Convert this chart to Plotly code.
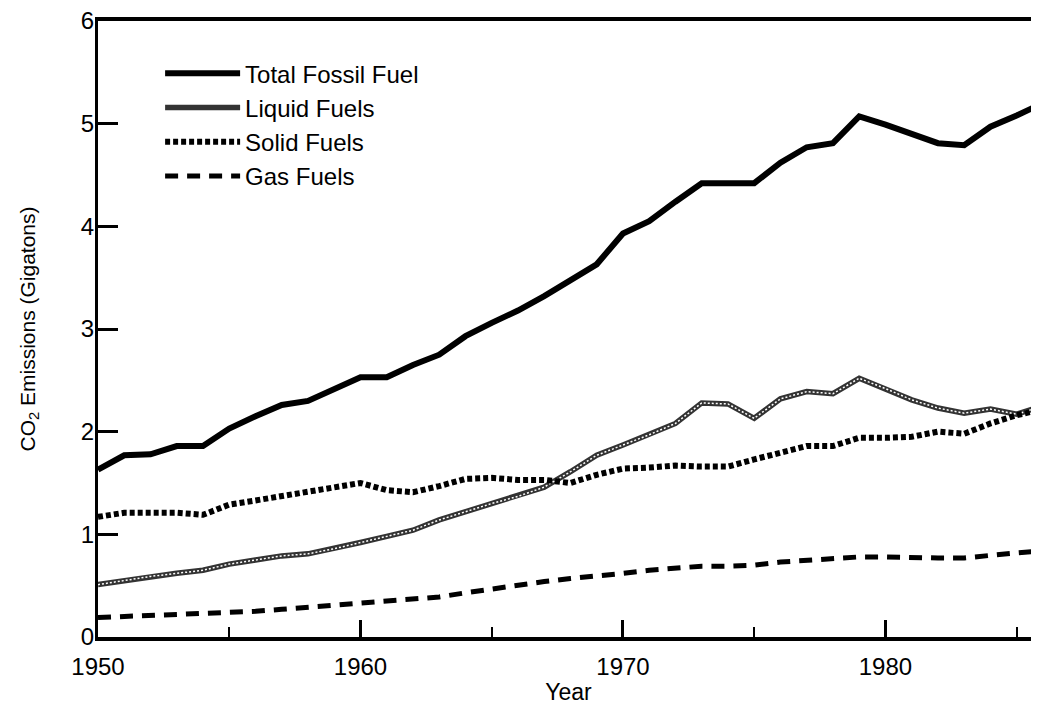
import plotly.graph_objects as go

# Global CO2 emissions from fossil fuels (gigatons)
years = list(range(1950, 1987))

total_fossil = [1.63, 1.77, 1.78, 1.86, 1.86, 2.03, 2.15, 2.26, 2.30, 2.42,
                2.53, 2.53, 2.65, 2.75, 2.93, 3.06, 3.18, 3.32, 3.47, 3.63,
                3.93, 4.05, 4.24, 4.42, 4.42, 4.42, 4.62, 4.77, 4.81, 5.07,
                4.99, 4.90, 4.81, 4.79, 4.97, 5.08, 5.20]

liquid = [0.51, 0.55, 0.59, 0.62, 0.65, 0.71, 0.75, 0.79, 0.81, 0.86,
          0.92, 0.98, 1.04, 1.14, 1.22, 1.30, 1.37, 1.46, 1.61, 1.77,
          1.87, 1.97, 2.08, 2.28, 2.27, 2.13, 2.32, 2.39, 2.37, 2.52,
          2.42, 2.31, 2.23, 2.18, 2.22, 2.17, 2.25]

solid = [1.17, 1.21, 1.21, 1.21, 1.19, 1.29, 1.33, 1.37, 1.41, 1.46,
         1.50, 1.43, 1.41, 1.47, 1.54, 1.55, 1.53, 1.53, 1.50, 1.58,
         1.64, 1.65, 1.67, 1.66, 1.66, 1.73, 1.80, 1.86, 1.86, 1.94,
         1.94, 1.95, 2.00, 1.98, 2.08, 2.16, 2.22]

gas = [0.19, 0.20, 0.21, 0.21, 0.22, 0.23, 0.25, 0.27, 0.29, 0.31,
       0.33, 0.35, 0.37, 0.39, 0.43, 0.47, 0.50, 0.54, 0.57, 0.59,
       0.62, 0.65, 0.67, 0.69, 0.69, 0.70, 0.73, 0.75, 0.76, 0.78,
       0.78, 0.77, 0.77, 0.77, 0.80, 0.82, 0.84]

fnt = "Liberation Sans, Arial, Helvetica, sans-serif"

fig = go.Figure()
fig.add_trace(go.Scatter(x=years, y=total_fossil, mode="lines", name="Total Fossil Fuel",
                         line=dict(color="black", width=6)))
fig.add_trace(go.Scatter(x=years, y=liquid, mode="lines", name="Liquid Fuels",
                         legendgroup="liq", line=dict(color="#333333", width=5.5)))
# white dots on top give the chain-like texture of the liquid line
fig.add_trace(go.Scatter(x=years, y=liquid, mode="lines", showlegend=False,
                         legendgroup="liq", hoverinfo="skip",
                         line=dict(color="white", width=1.5, dash="2px,2px")))
fig.add_trace(go.Scatter(x=years, y=solid, mode="lines", name="Solid Fuels",
                         line=dict(color="black", width=6, dash="5px,3px")))
fig.add_trace(go.Scatter(x=years, y=gas, mode="lines", name="Gas Fuels",
                         line=dict(color="black", width=5, dash="13px,9px")))

# the page body adds an 8px margin, so the figure is kept smaller than the window
fig.update_layout(
    width=1031, height=701,
    paper_bgcolor="white", plot_bgcolor="white",
    margin=dict(l=90, r=0, t=13, b=72),
    font=dict(family=fnt, size=22, color="black"),
    showlegend=True,
    legend=dict(x=0.066, y=0.951, xanchor="left", yanchor="top",
                bgcolor="rgba(0,0,0,0)", font=dict(size=24), itemwidth=75,
                tracegroupgap=0),
    xaxis=dict(
        range=[1950, 1985.85], tickvals=[1950, 1960, 1970, 1980],
        ticks="inside", ticklen=17, tickwidth=3, tickcolor="black",
        minor=dict(ticks="inside", ticklen=10, tickwidth=2, tickcolor="black",
                   tickvals=[1955, 1965, 1975, 1985]),
        showline=True, linewidth=4, linecolor="black", mirror=True,
        showgrid=False, zeroline=False,
        tickfont=dict(size=24), ticklabelstandoff=5,
        title=dict(text="Year", font=dict(size=23), standoff=6),
    ),
    yaxis=dict(
        range=[0, 6], tickvals=[0, 1, 2, 3, 4, 5, 6],
        ticks="inside", ticklen=20, tickwidth=3, tickcolor="black",
        showline=True, linewidth=3, linecolor="black",
        showgrid=False, zeroline=False, ticklabeloverflow="allow",
        tickfont=dict(size=24), ticklabelstandoff=-4,
        title=dict(text="CO<sub>2</sub> Emissions (Gigatons)", font=dict(size=21), standoff=40),
    ),
)

fig.write_html("out.html")
